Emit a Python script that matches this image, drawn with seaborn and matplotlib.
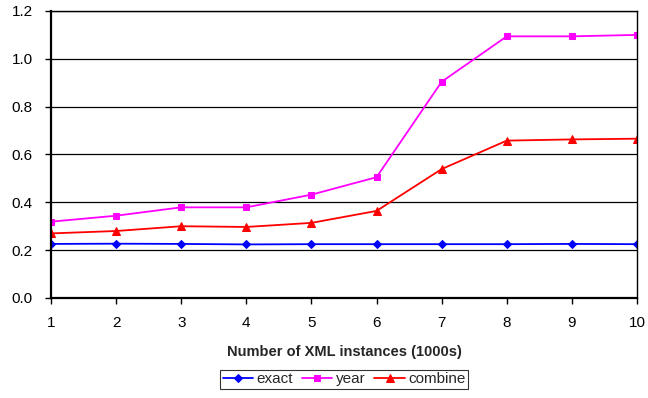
import pandas as pd
import matplotlib
matplotlib.use("Agg")
import matplotlib.pyplot as plt
import seaborn as sns

# Data
instances = [1, 2, 3, 4, 5, 6, 7, 8, 9, 10]
exact = [0.226, 0.227, 0.226, 0.224, 0.225, 0.225, 0.225, 0.225, 0.226, 0.225]
year = [0.319, 0.344, 0.379, 0.379, 0.432, 0.505, 0.904, 1.094, 1.094, 1.100]
combine = [0.270, 0.280, 0.300, 0.297, 0.314, 0.364, 0.539, 0.658, 0.663, 0.666]

series = ["exact", "year", "combine"]
colors = {"exact": "#0000FF", "year": "#FF00FF", "combine": "#FF0000"}
markers = {"exact": "D", "year": "s", "combine": "^"}
msizes = {"exact": 4, "year": 5, "combine": 6}

df = pd.DataFrame({"x": instances * 3,
                   "seconds": exact + year + combine,
                   "series": [s for s in series for _ in instances]})

sns.set_style("white")
plt.rcParams["font.family"] = ["Liberation Sans", "DejaVu Sans"]

fig = plt.figure(figsize=(6.48, 3.98), dpi=100)
ax = fig.add_axes([0.0787, 0.2513, 0.9043, 0.7211])

for s in series:
    sns.lineplot(data=df[df["series"] == s], x="x", y="seconds", ax=ax,
                 color=colors[s], marker=markers[s], markersize=msizes[s],
                 markeredgecolor=colors[s], linewidth=1.3, label=s)

ax.set_xlim(1, 10)
ax.set_ylim(0, 1.2)
ax.set_xticks(instances)
ax.set_yticks([0.0, 0.2, 0.4, 0.6, 0.8, 1.0, 1.2])
ax.set_yticklabels(["0.0", "0.2", "0.4", "0.6", "0.8", "1.0", "1.2"])
ax.yaxis.grid(True, color="black", linewidth=0.9)
ax.set_axisbelow(True)
for sp in ax.spines.values():
    sp.set_color("black")
    sp.set_linewidth(1.0)
ax.spines["left"].set_linewidth(1.6)
ax.spines["bottom"].set_linewidth(1.6)
ax.tick_params(axis="both", direction="out", length=4, width=1, colors="black",
               labelsize=11, bottom=True, left=True)
ax.tick_params(axis="x", pad=9)
ax.tick_params(axis="y", pad=9)

ax.set_xlabel("Number of XML instances (1000s)", fontsize=10.5, fontweight="bold",
              labelpad=11)
ax.set_ylabel("seconds", fontsize=10.5, fontweight="bold")
ax.yaxis.set_label_coords(-0.082, 0.5)

leg = ax.legend(loc="upper center", bbox_to_anchor=(0.5, -0.251), ncol=3,
                frameon=True, fancybox=False, fontsize=11, handlelength=2.0,
                handletextpad=0.2, columnspacing=0.6, borderpad=0.15,
                borderaxespad=0)
leg.get_frame().set_edgecolor("black")
leg.get_frame().set_linewidth(0.8)

fig.savefig("out.png", dpi=100)
